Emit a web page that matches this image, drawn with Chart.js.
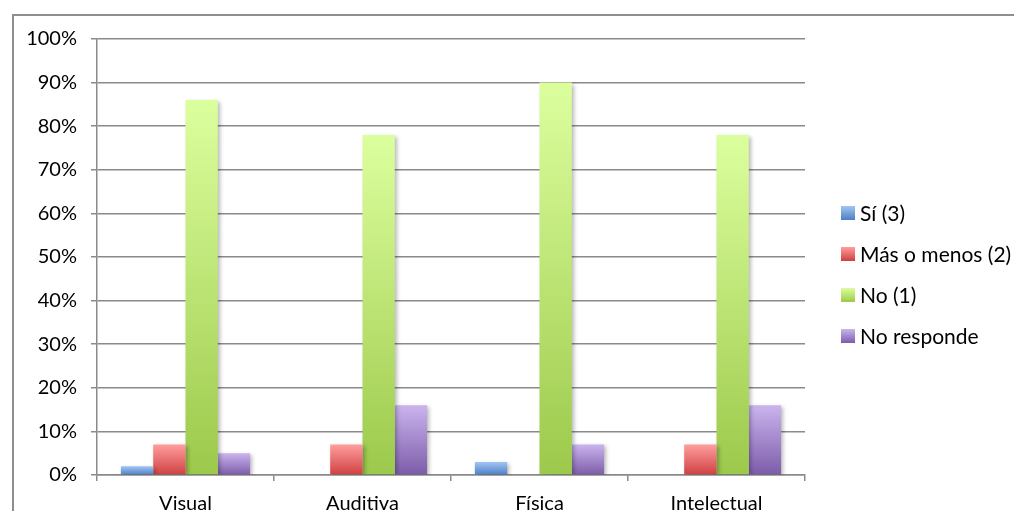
<!DOCTYPE html>
<html>
<head>
<meta charset="utf-8">
<script src="https://cdn.jsdelivr.net/npm/chart.js@4/dist/chart.umd.min.js"></script>
<style>
  html, body { margin: 0; padding: 0; background: #fff; overflow: hidden; }
  .frame {
    position: absolute; left: 12px; top: 14px;
    border: 2px solid #8e8e8e; background: #fff;
  }
  canvas { display: block; }
</style>
</head>
<body>
<div class="frame"><canvas id="chart" width="1010" height="520"></canvas></div>
<script>
// categories and percentages per answer
const categories = ['Visual', 'Auditiva', 'Física', 'Intelectual'];
const seriesNames = ['Sí (3)', 'Más o menos (2)', 'No (1)', 'No responde'];
const si = [2, 0, 3, 0];
const masMenos = [7, 7, 0, 7];
const no = [86, 78, 90, 78];
const noResponde = [5, 16, 7, 16];

// light (top) and dark (bottom) colour of each bar gradient
const shades = [
  ['#a3c6f2', '#4a7fc6'],
  ['#ff9e9e', '#cf4040'],
  ['#dcff9e', '#9cc94b'],
  ['#cab4ee', '#7c5ca9']
];

const FONT = 'Lato';
const FONT_SIZE = 20;
const LEGEND_FONT_SIZE = 21;
const PLOT_TOP = 23;      // canvas y of the 100% line
const PLOT_BOTTOM = 459;  // canvas y of the 0% line
const PLOT_RIGHT = 791;   // canvas x of the right edge of the plot
const LEGEND_X = 827;     // left edge of the legend swatches
const LEGEND_Y = 197;     // centre of the first legend row
const LEGEND_STEP = 41;
const BOX = 14;

function barFill(i) {
  const [light, dark] = shades[i];
  return ctx => {
    const chart = ctx.chart;
    const y = chart.scales.y;
    if (ctx.type !== 'data' || !y) return dark;
    const top = y.getPixelForValue(ctx.raw);
    const base = y.getPixelForValue(0);
    if (!isFinite(top) || base - top < 1) return dark;
    const g = chart.ctx.createLinearGradient(0, top, 0, base);
    g.addColorStop(0, light);
    g.addColorStop(1, dark);
    return g;
  };
}

// soft drop shadow under the bars
const barShadow = {
  id: 'barShadow',
  beforeDatasetsDraw(chart) {
    const c = chart.ctx;
    c.save();
    c.shadowColor = 'rgba(0,0,0,0.28)';
    c.shadowBlur = 4;
    c.shadowOffsetX = 2;
    c.shadowOffsetY = 2;
  },
  afterDatasetsDraw(chart) {
    chart.ctx.restore();
  }
};

// legend column on the right, swatches shaded like the bars
const sideLegend = {
  id: 'sideLegend',
  afterDraw(chart) {
    const c = chart.ctx;
    c.save();
    c.font = LEGEND_FONT_SIZE + 'px ' + FONT;
    c.textBaseline = 'middle';
    chart.data.datasets.forEach((ds, i) => {
      const cy = LEGEND_Y + i * LEGEND_STEP;
      const top = cy - BOX / 2;
      const g = c.createLinearGradient(0, top, 0, top + BOX);
      g.addColorStop(0, shades[i][0]);
      g.addColorStop(1, shades[i][1]);
      c.fillStyle = g;
      c.fillRect(LEGEND_X, top, BOX, BOX);
      c.fillStyle = '#000';
      c.fillText(ds.label, LEGEND_X + BOX + 5, cy + 1);
    });
    c.restore();
  }
};

const gridColor = '#8a8a8a';
Chart.defaults.color = '#000';
Chart.defaults.font.family = FONT;
Chart.defaults.font.size = FONT_SIZE;

const values = [si, masMenos, no, noResponde];
const canvas = document.getElementById('chart');

new Chart(canvas, {
  type: 'bar',
  data: {
    labels: categories,
    datasets: values.map((v, i) => ({
      label: seriesNames[i],
      data: v,
      backgroundColor: barFill(i),
      borderWidth: 0,
      categoryPercentage: 0.73,
      barPercentage: 1
    }))
  },
  plugins: [barShadow, sideLegend],
  options: {
    responsive: false,
    animation: false,
    layout: {
      padding: { top: PLOT_TOP, left: 0, bottom: 0, right: canvas.width - PLOT_RIGHT }
    },
    scales: {
      x: {
        grid: { drawOnChartArea: false, color: gridColor, lineWidth: 1.5, tickLength: 6, offset: true },
        border: { color: gridColor, width: 1.5 },
        ticks: { padding: 11, color: '#000' },
        afterFit(s) { s.height = canvas.height - PLOT_BOTTOM; }
      },
      y: {
        min: 0,
        max: 100,
        ticks: { stepSize: 10, padding: 14, color: '#000', callback: v => v + '%' },
        grid: { color: gridColor, lineWidth: 1.5, tickLength: 6 },
        border: { color: gridColor, width: 1.5 },
        afterFit(s) {
          s.width = 83;
          s.paddingTop = 0;
          s.paddingBottom = 0;
        }
      }
    },
    plugins: {
      legend: { display: false },
      tooltip: { enabled: false }
    }
  }
});
</script>
</body>
</html>
